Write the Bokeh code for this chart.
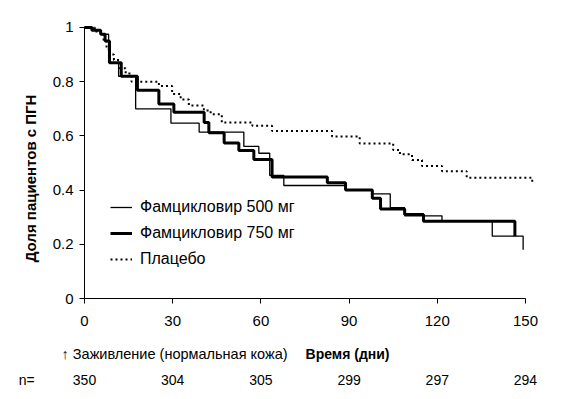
import math
from bokeh.plotting import figure
from bokeh.models import (Range1d, FixedTicker, Legend, LegendItem, Label,
                          LabelSet, ColumnDataSource)
from bokeh.core.properties import value
from bokeh.embed import file_html
from bokeh.resources import INLINE

# ---- data ----
days_500 = [0, 3, 5.5, 8.2, 11.6, 17.4, 29.4, 39, 54.2, 59.3, 63, 67.8, 88.8,
            97.9, 104, 108.9, 121.6, 138.7, 149.2]
surv_500 = [1.0, 0.99, 0.975, 0.87, 0.82, 0.70, 0.647, 0.614, 0.561, 0.536,
            0.454, 0.417, 0.40, 0.386, 0.335, 0.305, 0.285, 0.23, 0.18]

days_750 = [0, 2.5, 5.5, 7, 8.5, 12.5, 18, 25.3, 30.4, 40.7, 42.3, 47.5, 52.5,
            57.6, 63.8, 82.6, 88.8, 97.9, 100.7, 108.9, 115.3, 146.4]
surv_750 = [1.0, 0.99, 0.975, 0.95, 0.87, 0.82, 0.768, 0.718, 0.687, 0.649,
            0.612, 0.574, 0.546, 0.513, 0.448, 0.427, 0.40, 0.37, 0.33, 0.31,
            0.285, 0.23]

days_plc = [0, 3.5, 5.5, 6.5, 7.5, 8.5, 10, 12, 14, 16, 25.3, 29.8, 32.7, 35.5,
            40.6, 42.9, 46.7, 57.1, 63.8, 84.2, 93.6, 105, 107.3, 111.4, 114.8,
            121.6, 130, 152.3]
surv_plc = [1.0, 0.985, 0.975, 0.95, 0.92, 0.90, 0.88, 0.85, 0.83, 0.80, 0.784,
            0.755, 0.734, 0.712, 0.694, 0.68, 0.649, 0.637, 0.618, 0.598, 0.572,
            0.548, 0.532, 0.511, 0.489, 0.47, 0.446, 0.427]

series_names = ["Фамцикловир 500 мг", "Фамцикловир 750 мг", "Плацебо"]

x_ticks = [0, 30, 60, 90, 120, 150]
y_ticks = [0, 0.2, 0.4, 0.6, 0.8, 1.0]
y_tick_labels = ["0", "0.2", "0.4", "0.6", "0.8", "1"]
n_at_risk = ["350", "304", "305", "299", "297", "294"]

x_title = "Время (дни)"
y_title = "Доля пациентов с ПГН"
healing_note = "\u2191 Заживление (нормальная кожа)"
n_prefix = "n="

FONT = "Liberation Sans"

# the frame fills the whole canvas; axes are pinned at 0 so that the
# texts under the x axis and left of the y axis can live inside the frame
p = figure(width=562, height=396, output_backend="svg", toolbar_location=None,
           x_range=Range1d(-28.57, 162.59), y_range=Range1d(-0.3616, 1.0996),
           min_border=0)
p.outline_line_color = None
p.xgrid.visible = False
p.ygrid.visible = False

r500 = p.step(days_500, surv_500, mode="after", line_color="black", line_width=1.3)
r750 = p.step(days_750, surv_750, mode="after", line_color="black", line_width=3)
rplc = p.step(days_plc, surv_plc, mode="after", line_color="black", line_width=2,
              line_dash="2 3")

# axes
xa = p.xaxis[0]
xa.fixed_location = 0
xa.ticker = FixedTicker(ticks=x_ticks)
xa.bounds = (0, 150)
ya = p.yaxis[0]
ya.fixed_location = 0
ya.ticker = FixedTicker(ticks=y_ticks)
ya.bounds = (0, 1)
ya.major_label_overrides = {t: l for t, l in zip(y_ticks, y_tick_labels)}
for ax in (xa, ya):
    ax.axis_line_color = "black"
    ax.major_tick_line_color = "black"
    ax.minor_tick_line_color = None
    ax.major_tick_in = 0
    ax.major_tick_out = 5
    ax.major_label_text_font = FONT
    ax.major_label_text_font_size = "15px"
    ax.major_label_text_color = "black"
xa.major_label_standoff = 12
ya.major_label_standoff = 6

# legend
legend = Legend(items=[LegendItem(label=series_names[0], renderers=[r500]),
                       LegendItem(label=series_names[1], renderers=[r750]),
                       LegendItem(label=series_names[2], renderers=[rplc])],
                location=(110, 127), padding=0, margin=0, spacing=6,
                label_height=20, glyph_height=20, glyph_width=22,
                label_standoff=8, border_line_color=None,
                background_fill_alpha=0, label_text_font=FONT,
                label_text_font_size="16px", label_text_color="black")
p.add_layout(legend)

# y axis title (rotated), placed like the reference
p.add_layout(Label(x=-18.4, y=0.443, text=y_title, angle=math.pi / 2,
                   text_font=FONT, text_font_size="15px",
                   text_font_style="bold", text_align="center",
                   text_baseline="middle", text_color="black"))

# texts below the axis (data coordinates inside the frame)
row1_y = -0.203
row2_y = -0.299
p.add_layout(Label(x=-7.8, y=row1_y, text=healing_note, text_font=FONT,
                   text_font_size="14.5px", text_baseline="middle",
                   text_color="black"))
p.add_layout(Label(x=75.2, y=row1_y, text=x_title, text_font=FONT,
                   text_font_size="14px", text_font_style="bold",
                   text_baseline="middle", text_color="black"))
p.add_layout(Label(x=-22.4, y=row2_y, text=n_prefix, text_font=FONT,
                   text_font_size="14px", text_baseline="middle",
                   text_color="black"))
n_src = ColumnDataSource(dict(x=x_ticks, y=[row2_y] * len(x_ticks), text=n_at_risk))
p.add_layout(LabelSet(x="x", y="y", text="text", source=n_src,
                      text_font=value(FONT), text_font_size=value("14px"),
                      text_align="center", text_baseline="middle",
                      text_color="black"))

open("out.html", "w").write(file_html(p, INLINE))
